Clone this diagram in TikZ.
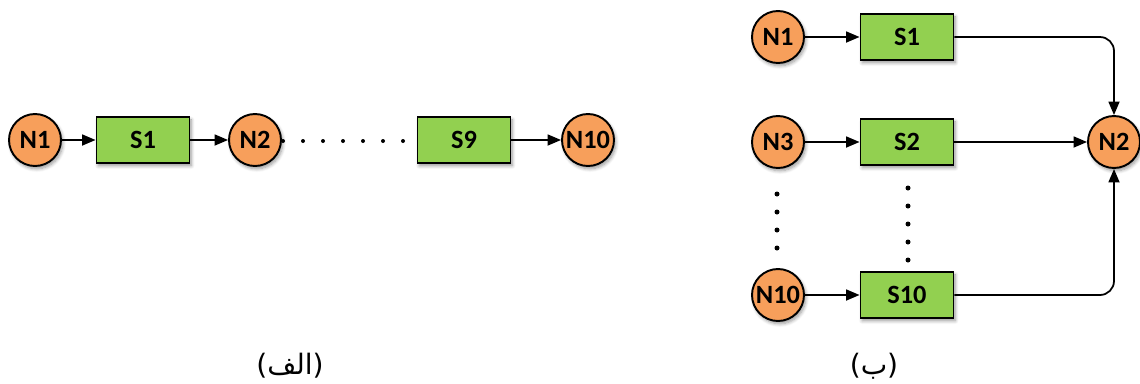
\documentclass[tikz,border=0pt]{standalone}
\usepackage{fontspec}
\setmainfont{Carlito}
\newfontfamily\arabicfont[Script=Arabic]{DejaVu Sans}
\TeXXeTstate=1
\usetikzlibrary{arrows.meta,shadows.blur}

\definecolor{nodeorange}{HTML}{F79F5B}
\definecolor{stagegreen}{HTML}{92D050}

\tikzset{
  softshadow/.style={blur shadow={shadow xshift=1pt,shadow yshift=-1.6pt,
      shadow blur steps=6,shadow opacity=40}},
  nodecirc/.style={circle,draw,line width=1.1pt,fill=nodeorange,softshadow,
      minimum size=1.04cm,inner sep=0pt,font=\fontsize{15}{17}\selectfont\bfseries},
  stagebox/.style={rectangle,draw,line width=1.1pt,fill=stagegreen,softshadow,
      minimum width=1.86cm,minimum height=0.92cm,font=\fontsize{15}{17}\selectfont\bfseries},
  link/.style={-{Triangle[length=0.27cm,width=0.22cm]},line width=1pt},
  caption/.style={font=\fontsize{16}{18}\selectfont\arabicfont}
}

\begin{document}
\begin{tikzpicture}[x=0.02cm,y=-0.02cm]
  \useasboundingbox (0,0) rectangle (1140,383);

  % series chain
  \node[nodecirc] (a1) at (35,140) {N1};
  \node[stagebox] (as1) at (143,140) {S1};
  \node[nodecirc] (a2) at (255,140) {N2};
  \node[stagebox] (as9) at (464,140) {S9};
  \node[nodecirc] (a10) at (588,140) {N10};
  \draw[link] (a1) -- (as1);
  \draw[link] (as1) -- (a2);
  \draw[link] (as9) -- (a10);
  \foreach \x in {283,303,...,403}
    \fill (\x,141) circle [radius=0.04cm];
  \node[caption] (capa) at (290,366) {\beginR(الف)\endR};

  % parallel branches
  \node[nodecirc] (b1) at (778,37) {N1};
  \node[stagebox] (bs1) at (907,37) {S1};
  \node[nodecirc] (b3) at (778,142) {N3};
  \node[stagebox] (bs2) at (907,142) {S2};
  \node[nodecirc] (b10) at (778,295) {N10};
  \node[stagebox] (bs10) at (907,295) {S10};
  \node[nodecirc] (b2) at (1114,142) {N2};
  \draw[link] (b1) -- (bs1);
  \draw[link] (b3) -- (bs2);
  \draw[link] (b10) -- (bs10);
  \draw[link,rounded corners=8pt] (bs1) -| (b2);
  \draw[link] (bs2) -- (b2);
  \draw[link,rounded corners=8pt] (bs10) -| (b2);
  \foreach \y in {194,212,230,248}
    \fill (777,\y) circle [radius=0.05cm];
  \foreach \y in {188,206,...,260}
    \fill (908,\y) circle [radius=0.05cm];
  \node[caption] (capb) at (874,366) {\beginR(ب)\endR};
\end{tikzpicture}
\end{document}
